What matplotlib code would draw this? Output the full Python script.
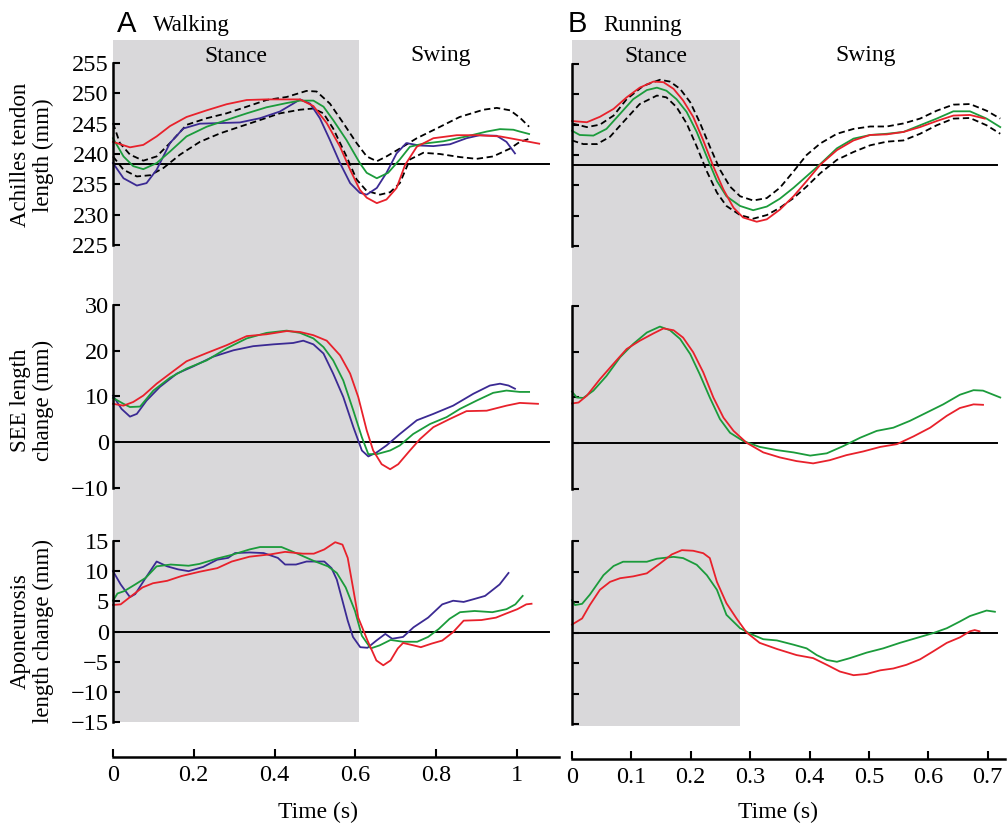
import numpy as np
import matplotlib.pyplot as plt

plt.rcParams['font.family'] = 'Liberation Serif'
plt.rcParams['axes.unicode_minus'] = True

RED = '#e8212b'
GREEN = '#1b9b3b'
PURPLE = '#3b2a93'
SHADE = '#d9d8da'

# ---------------- walking data ----------------
walk_stance_end = 0.609

# Achilles tendon length (mm)
wt_red_t = [0, 0.042, 0.075, 0.108, 0.141, 0.182, 0.232, 0.281, 0.331, 0.38, 0.43, 0.463, 0.496, 0.529,
            0.562, 0.587, 0.611, 0.628, 0.653, 0.677, 0.702, 0.723, 0.752, 0.793, 0.851, 0.9, 0.958, 1.007, 1.055]
wt_red = [242.0, 241.1, 241.5, 242.9, 244.6, 246.1, 247.2, 248.2, 248.9, 249.0, 249.0, 249.0, 247.9, 245.1,
          241.2, 237.4, 234.1, 232.8, 231.9, 232.5, 234.4, 238.2, 241.2, 242.6, 243.1, 243.1, 242.9, 242.3, 241.7]
wt_green_t = [0, 0.026, 0.05, 0.075, 0.108, 0.141, 0.182, 0.232, 0.281, 0.331, 0.38, 0.43, 0.463, 0.496, 0.521,
              0.545, 0.578, 0.611, 0.628, 0.653, 0.681, 0.71, 0.735, 0.768, 0.818, 0.875, 0.925, 0.958, 0.991,
              1.007, 1.03]
wt_green = [242.6, 239.6, 238.0, 237.5, 238.5, 240.4, 242.9, 244.5, 245.6, 246.7, 247.7, 248.4, 248.8, 248.8, 247.8,
            245.6, 242.3, 238.5, 236.9, 236.0, 236.9, 239.1, 241.2, 241.7, 242.1, 242.9, 243.7, 244.1, 244.0,
            243.7, 243.3]
wt_purple_t = [0, 0.026, 0.059, 0.083, 0.108, 0.141, 0.174, 0.215, 0.265, 0.314, 0.364, 0.413, 0.446, 0.463,
               0.488, 0.512, 0.537, 0.562, 0.587, 0.611, 0.628, 0.653, 0.677, 0.702, 0.726, 0.759, 0.793, 0.834,
               0.875, 0.908, 0.95, 0.974, 0.995]
wt_purple = [238.5, 236.0, 234.8, 235.2, 237.4, 241.8, 244.2, 245.0, 245.1, 245.2, 245.9, 247.0, 248.3, 249.0,
             248.3, 245.9, 242.3, 238.5, 235.2, 233.6, 233.3, 234.4, 236.9, 240.1, 241.8, 241.4, 241.3, 241.6,
             242.6, 243.1, 243.0, 242.0, 240.1]
wt_sd_hi_t = [0, 0.017, 0.042, 0.075, 0.108, 0.141, 0.182, 0.232, 0.281, 0.331, 0.38, 0.43, 0.479, 0.504, 0.537,
              0.57, 0.603, 0.628, 0.653, 0.677, 0.71, 0.752, 0.801, 0.858, 0.917, 0.95, 0.983, 1.007, 1.03]
wt_sd_hi = [245.1, 241.8, 239.9, 238.9, 239.6, 241.8, 244.8, 245.9, 246.7, 247.8, 248.9, 249.4, 250.4, 250.3, 248.3,
            245.1, 241.8, 239.6, 238.8, 239.6, 240.9, 242.6, 244.2, 246.1, 247.3, 247.6, 247.2, 246.0, 244.5]
wt_sd_lo_t = [0, 0.026, 0.059, 0.092, 0.125, 0.166, 0.215, 0.265, 0.314, 0.364, 0.413, 0.463, 0.496, 0.521, 0.545,
              0.578, 0.603, 0.628, 0.661, 0.686, 0.71, 0.735, 0.768, 0.809, 0.858, 0.9, 0.941, 0.983, 1.007, 1.03]
wt_sd_lo = [239.6, 237.4, 236.3, 236.5, 237.7, 239.9, 242.0, 243.4, 244.5, 245.6, 246.7, 247.3, 247.5, 246.7, 244.2,
            239.6, 235.8, 233.9, 233.3, 233.7, 235.2, 239.1, 240.2, 240.0, 239.5, 239.2, 239.6, 240.9, 242.0, 242.5]
walk_tendon_ref = 238.4

# SEE length change (mm)
ws_red_t = [0, 0.026, 0.05, 0.075, 0.108, 0.141, 0.182, 0.232, 0.281, 0.331, 0.38, 0.43, 0.463, 0.496, 0.529,
            0.562, 0.587, 0.607, 0.628, 0.644, 0.665, 0.686, 0.706, 0.735, 0.76, 0.793, 0.834, 0.875, 0.925,
            0.974, 1.007, 1.052]
ws_red = [8.4, 8.0, 8.8, 10.2, 12.8, 15.0, 17.7, 19.5, 21.2, 23.2, 23.6, 24.3, 24.1, 23.4, 22.2,
          19.0, 15.0, 9.9, 2.6, -1.8, -4.8, -5.9, -4.8, -1.8, 0.7, 3.3, 5.1, 6.8, 6.9,
          8.0, 8.6, 8.4]
ws_green_t = [0, 0.026, 0.042, 0.067, 0.1, 0.141, 0.182, 0.232, 0.281, 0.331, 0.38, 0.43, 0.463, 0.496, 0.521,
              0.545, 0.57, 0.595, 0.616, 0.632, 0.653, 0.686, 0.71, 0.743, 0.785, 0.826, 0.859, 0.9, 0.941,
              0.974, 1.007, 1.03]
ws_green = [9.7, 8.4, 7.7, 7.8, 11.3, 14.1, 16.1, 17.9, 20.5, 22.7, 23.9, 24.4, 23.9, 22.7, 20.8,
            17.9, 13.5, 6.9, 1.1, -2.6, -2.6, -1.8, -0.7, 1.8, 4.0, 5.5, 7.3, 9.1, 10.8,
            11.3, 11.0, 11.0]
ws_purple_t = [0, 0.021, 0.042, 0.059, 0.083, 0.116, 0.158, 0.199, 0.248, 0.298, 0.347, 0.397, 0.446, 0.471,
               0.496, 0.521, 0.545, 0.57, 0.595, 0.616, 0.632, 0.653, 0.677, 0.71, 0.752, 0.793, 0.842, 0.892,
               0.933, 0.958, 0.979, 0.995]
ws_purple = [10.2, 7.3, 5.6, 6.2, 9.1, 12.1, 15.0, 16.6, 18.7, 20.1, 21.0, 21.4, 21.7, 22.2,
             21.4, 19.4, 15.0, 9.9, 3.3, -1.8, -3.1, -2.2, -0.7, 1.8, 4.8, 6.2, 8.0, 10.6,
             12.4, 12.8, 12.4, 11.7]

# Aponeurosis length change (mm)
wa_red_t = [0, 0.019, 0.042, 0.073, 0.099, 0.134, 0.17, 0.214, 0.258, 0.294, 0.338, 0.391, 0.426, 0.47, 0.497,
            0.523, 0.55, 0.568, 0.581, 0.594, 0.607, 0.63, 0.652, 0.669, 0.687, 0.705, 0.718, 0.744, 0.762,
            0.789, 0.815, 0.842, 0.868, 0.912, 0.948, 0.974, 1.001, 1.023, 1.036]
wa_red = [4.4, 4.5, 5.7, 7.3, 8.0, 8.4, 9.2, 9.9, 10.5, 11.6, 12.4, 12.8, 13.2, 12.9, 12.9,
          13.6, 14.8, 14.4, 12.2, 7.3, 2.3, -1.5, -4.8, -5.6, -4.8, -2.8, -1.9, -2.3, -2.6,
          -2.0, -1.5, -0.1, 1.8, 1.9, 2.3, 3.0, 3.7, 4.5, 4.6]
wa_green_t = [0, 0.011, 0.028, 0.055, 0.081, 0.108, 0.143, 0.187, 0.214, 0.258, 0.294, 0.338, 0.364, 0.417, 0.453,
              0.497, 0.532, 0.554, 0.576, 0.599, 0.616, 0.638, 0.66, 0.687, 0.718, 0.753, 0.78, 0.806, 0.833,
              0.859, 0.895, 0.939, 0.974, 0.996, 1.014]
wa_green = [5.1, 6.3, 6.7, 7.8, 8.9, 10.8, 11.1, 10.9, 11.2, 12.1, 12.7, 13.6, 14.0, 14.0, 13.0,
            11.7, 10.8, 9.7, 7.3, 3.4, -0.7, -2.8, -2.3, -1.4, -1.7, -1.7, -0.9, 0.4, 2.1,
            3.2, 3.4, 3.2, 3.7, 4.5, 5.9]
wa_purple_t = [0, 0.019, 0.042, 0.055, 0.081, 0.108, 0.134, 0.161, 0.187, 0.223, 0.258, 0.285, 0.302, 0.338,
               0.373, 0.408, 0.426, 0.453, 0.479, 0.523, 0.541, 0.554, 0.568, 0.581, 0.594, 0.612, 0.63, 0.652,
               0.674, 0.691, 0.718, 0.744, 0.78, 0.815, 0.842, 0.868, 0.895, 0.921, 0.957, 0.979]
wa_purple = [10.0, 7.8, 5.7, 6.2, 8.9, 11.6, 10.8, 10.3, 10.0, 10.7, 11.9, 12.2, 13.0, 13.1,
             13.0, 12.2, 11.1, 11.1, 11.6, 11.6, 10.5, 8.6, 5.1, 1.8, -0.9, -2.6, -2.7, -1.5,
             -0.4, -1.2, -0.9, 0.7, 2.3, 4.5, 5.1, 4.9, 5.4, 5.9, 7.8, 9.7]

# ---------------- running data ----------------
run_stance_end = 0.283

rt_red_t = [0, 0.025, 0.047, 0.07, 0.092, 0.114, 0.137, 0.154, 0.171, 0.187, 0.204, 0.221, 0.238, 0.255, 0.272,
            0.288, 0.311, 0.328, 0.35, 0.373, 0.395, 0.418, 0.446, 0.474, 0.502, 0.53, 0.558, 0.586, 0.614,
            0.642, 0.67, 0.695]
rt_red = [245.6, 245.4, 246.3, 247.6, 249.5, 251.1, 252.1, 252.0, 250.9, 249.0, 246.3, 242.4, 238.1, 234.3, 231.3,
          229.7, 229.0, 229.4, 231.0, 233.2, 235.7, 238.4, 240.8, 242.4, 243.3, 243.4, 243.8, 244.6, 245.6,
          246.5, 246.6, 246.0]
rt_green_t = [0, 0.013, 0.036, 0.058, 0.081, 0.103, 0.126, 0.143, 0.159, 0.176, 0.193, 0.21, 0.227, 0.244, 0.26,
              0.283, 0.305, 0.328, 0.35, 0.373, 0.395, 0.418, 0.446, 0.474, 0.502, 0.53, 0.558, 0.586, 0.614,
              0.642, 0.67, 0.698, 0.721]
rt_green = [244.0, 243.3, 243.2, 244.3, 246.8, 249.2, 250.7, 251.1, 250.6, 249.2, 247.1, 243.8, 239.7, 235.7, 233.2,
            231.6, 230.9, 231.5, 232.8, 234.6, 236.5, 238.5, 241.1, 242.7, 243.3, 243.5, 243.8, 244.9, 246.0,
            247.2, 247.2, 246.0, 244.6]
rt_sd_hi_t = [0, 0.025, 0.047, 0.07, 0.092, 0.12, 0.148, 0.165, 0.182, 0.199, 0.215, 0.232, 0.249, 0.266, 0.283,
              0.305, 0.328, 0.35, 0.373, 0.395, 0.418, 0.446, 0.474, 0.502, 0.53, 0.558, 0.586, 0.614, 0.642,
              0.67, 0.698, 0.721]
rt_sd_hi = [245.2, 244.6, 245.0, 246.5, 249.2, 251.4, 252.4, 252.1, 250.9, 248.7, 245.4, 241.4, 237.6, 234.8, 233.2,
            232.5, 232.9, 234.6, 237.3, 240.0, 241.9, 243.5, 244.3, 244.7, 244.7, 245.2, 246.0, 247.3, 248.3,
            248.4, 247.3, 246.0]
rt_sd_lo_t = [0, 0.019, 0.042, 0.064, 0.086, 0.114, 0.143, 0.159, 0.176, 0.193, 0.21, 0.227, 0.244, 0.26, 0.283,
              0.305, 0.328, 0.35, 0.373, 0.395, 0.418, 0.446, 0.474, 0.502, 0.53, 0.558, 0.586, 0.614, 0.642,
              0.67, 0.698, 0.721]
rt_sd_lo = [242.4, 241.8, 241.8, 243.0, 245.4, 248.4, 249.8, 249.5, 247.9, 245.2, 241.4, 237.3, 233.8, 231.6, 230.1,
            229.5, 230.1, 231.3, 232.9, 234.8, 237.0, 239.2, 240.5, 241.6, 242.2, 242.4, 243.5, 244.9, 246.0,
            246.1, 244.9, 243.5]
run_tendon_ref = 238.3

rs_red_t = [0, 0.011, 0.025, 0.047, 0.07, 0.092, 0.114, 0.137, 0.154, 0.171, 0.187, 0.204, 0.221, 0.238, 0.255,
            0.272, 0.294, 0.322, 0.35, 0.378, 0.406, 0.434, 0.462, 0.49, 0.519, 0.547, 0.575, 0.603, 0.631,
            0.653, 0.676, 0.692]
rs_red = [8.7, 8.9, 10.4, 14.0, 17.4, 20.6, 22.4, 24.0, 25.1, 24.7, 23.1, 19.9, 15.5, 10.0, 5.6,
          2.7, 0.1, -2.0, -3.1, -3.9, -4.4, -3.7, -2.6, -1.8, -0.8, -0.2, 1.5, 3.4, 6.0,
          7.7, 8.5, 8.4]
rs_green_t = [0, 0.008, 0.019, 0.036, 0.058, 0.081, 0.103, 0.126, 0.148, 0.165, 0.182, 0.199, 0.215, 0.232, 0.249,
              0.266, 0.288, 0.316, 0.345, 0.373, 0.401, 0.429, 0.457, 0.485, 0.513, 0.541, 0.569, 0.597, 0.625,
              0.653, 0.676, 0.692, 0.721]
rs_green = [11.3, 10.0, 9.9, 11.5, 14.7, 18.8, 21.7, 24.2, 25.5, 24.7, 22.8, 19.5, 15.1, 10.0, 5.3,
            2.3, 0.5, -0.8, -1.5, -2.0, -2.7, -2.2, -0.6, 1.2, 2.7, 3.4, 4.9, 6.7, 8.5,
            10.6, 11.6, 11.5, 10.0]

ra_red_t = [0, 0.017, 0.03, 0.047, 0.064, 0.081, 0.103, 0.126, 0.148, 0.168, 0.185, 0.204, 0.221, 0.232, 0.244,
            0.26, 0.277, 0.294, 0.316, 0.345, 0.378, 0.406, 0.429, 0.451, 0.474, 0.496, 0.519, 0.541, 0.563,
            0.586, 0.608, 0.631, 0.653, 0.67, 0.678, 0.686]
ra_red = [1.3, 2.3, 4.5, 7.0, 8.3, 8.9, 9.2, 9.7, 11.3, 12.8, 13.5, 13.4, 13.0, 12.2, 8.3,
          4.8, 2.3, 0.0, -1.7, -2.7, -3.7, -4.2, -5.3, -6.4, -7.0, -6.8, -6.2, -5.9, -5.3,
          -4.4, -3.1, -1.7, -0.8, 0.2, 0.4, 0.2]
ra_green_t = [0, 0.005, 0.017, 0.03, 0.053, 0.07, 0.086, 0.109, 0.126, 0.143, 0.171, 0.187, 0.21, 0.227, 0.244,
              0.26, 0.283, 0.3, 0.322, 0.345, 0.373, 0.395, 0.412, 0.429, 0.446, 0.468, 0.496, 0.524, 0.552,
              0.58, 0.608, 0.631, 0.653, 0.67, 0.698, 0.712]
ra_green = [5.3, 4.5, 4.7, 6.2, 9.4, 10.9, 11.6, 11.6, 11.6, 12.1, 12.4, 12.2, 11.1, 9.4, 7.0,
            2.9, 0.7, -0.2, -1.1, -1.3, -2.0, -2.6, -3.7, -4.5, -4.8, -4.2, -3.3, -2.6, -1.7,
            -0.9, -0.1, 0.7, 1.8, 2.7, 3.6, 3.4]

walk_ticks = [0, 0.2, 0.4, 0.6, 0.8, 1]
walk_ticklabels = ['0', '0.2', '0.4', '0.6', '0.8', '1']
run_ticks = [0, 0.1, 0.2, 0.3, 0.4, 0.5, 0.6, 0.7]
run_ticklabels = ['0', '0.1', '0.2', '0.3', '0.4', '0.5', '0.6', '0.7']

tendon_ticks = [225, 230, 235, 240, 245, 250, 255]
see_ticks = [-10, 0, 10, 20, 30]
apo_ticks = [-15, -10, -5, 0, 5, 10, 15]

# ---------------- layout (pixels) ----------------
W, H = 1008, 826
fig = plt.figure(figsize=(W / 100, H / 100), dpi=100)


def px_axes(left, top, right, bottom):
    return fig.add_axes([left / W, 1 - bottom / H, (right - left) / W, (bottom - top) / H])


TICK_FS = 17.5
LAB_FS = 16.5

cols = [
    dict(x0=113, x1=559, xmax=1.104, line_end=1.08, stance=walk_stance_end, swing_mid=0.812,
         rows=[(63, 245), (305, 488), (541, 722)], shade=(40, 722), xaxis_y=757,
         ticks=walk_ticks, ticklabels=walk_ticklabels, xlab_pos=0.46),
    dict(x0=572, x1=1005, xmax=0.729, line_end=0.716, stance=run_stance_end, swing_mid=0.495,
         rows=[(64, 246), (306, 489), (541, 724)], shade=(40, 726), xaxis_y=759,
         ticks=run_ticks, ticklabels=run_ticklabels, xlab_pos=0.476),
]

panels = [
    # walking
    [
        [(wt_sd_hi_t, wt_sd_hi, 'k', '--'), (wt_sd_lo_t, wt_sd_lo, 'k', '--'),
         (wt_purple_t, wt_purple, PURPLE, '-'), (wt_green_t, wt_green, GREEN, '-'), (wt_red_t, wt_red, RED, '-')],
        [(ws_purple_t, ws_purple, PURPLE, '-'), (ws_green_t, ws_green, GREEN, '-'), (ws_red_t, ws_red, RED, '-')],
        [(wa_purple_t, wa_purple, PURPLE, '-'), (wa_green_t, wa_green, GREEN, '-'), (wa_red_t, wa_red, RED, '-')],
    ],
    # running
    [
        [(rt_sd_hi_t, rt_sd_hi, 'k', '--'), (rt_sd_lo_t, rt_sd_lo, 'k', '--'),
         (rt_green_t, rt_green, GREEN, '-'), (rt_red_t, rt_red, RED, '-')],
        [(rs_green_t, rs_green, GREEN, '-'), (rs_red_t, rs_red, RED, '-')],
        [(ra_green_t, ra_green, GREEN, '-'), (ra_red_t, ra_red, RED, '-')],
    ],
]
refs = [[walk_tendon_ref, 0, 0], [run_tendon_ref, 0, 0]]
ylims = [(225, 255), (-10, 30), (-15, 15)]
yticks = [tendon_ticks, see_ticks, apo_ticks]
ylabels = ['Achilles tendon\nlength (mm)', 'SEE length\nchange (mm)', 'Aponeurosis\nlength change (mm)']
ylabel_y = [155, 400, 631]

for ci, col in enumerate(cols):
    # stance shading
    bg = px_axes(col['x0'], col['shade'][0], col['x1'], col['shade'][1])
    bg.set_xlim(0, col['xmax'])
    bg.set_ylim(0, 1)
    bg.axvspan(0, col['stance'], color=SHADE, lw=0)
    bg.axis('off')
    label_y = 1 - 16 / (col['shade'][1] - col['shade'][0])
    bg.text(col['stance'] / 2, label_y, 'Stance', fontsize=LAB_FS + 0.5, ha='center', va='center')
    bg.text(col['swing_mid'], label_y, 'Swing', fontsize=LAB_FS + 0.5, ha='center', va='center')

    for ri, (top, bot) in enumerate(col['rows']):
        ax = px_axes(col['x0'], top, col['x1'], bot)
        ax.patch.set_visible(False)
        ax.set_xlim(0, col['xmax'])
        ax.set_ylim(*ylims[ri])
        for t, v, c, ls in panels[ci][ri]:
            if ls == '--':
                ax.plot(t, v, color=c, lw=1.3, ls=(0, (3.5, 2)), clip_on=False)
            else:
                ax.plot(t, v, color=c, lw=1.3, clip_on=False)
        ax.plot([0, col['line_end']], [refs[ci][ri]] * 2, color='k', lw=1.4, zorder=1)
        for s in ['top', 'right', 'bottom']:
            ax.spines[s].set_visible(False)
        ax.spines['left'].set_linewidth(1.8)
        ax.set_xticks([])
        ax.set_yticks(yticks[ri])
        ax.tick_params(axis='y', direction='in', length=5, width=1.5, pad=3, labelsize=TICK_FS)
        if ci == 1:
            ax.set_yticklabels([])

    # time axis
    xa = px_axes(col['x0'], col['xaxis_y'] - 1, col['x1'], col['xaxis_y'])
    xa.patch.set_visible(False)
    xa.set_xlim(0, col['xmax'])
    for s in ['top', 'right', 'left']:
        xa.spines[s].set_visible(False)
    xa.spines['bottom'].set_linewidth(1.8)
    xa.set_yticks([])
    xa.set_xticks(col['ticks'])
    xa.set_xticklabels(col['ticklabels'])
    xa.tick_params(axis='x', direction='in', length=6, width=1.5, pad=6, labelsize=TICK_FS)
    fig.text((col['x0'] + col['xlab_pos'] * (col['x1'] - col['x0'])) / W, 1 - 812 / H, 'Time (s)',
             fontsize=LAB_FS + 0.5, ha='center', va='center')

for ri in range(3):
    fig.text(32 / W, 1 - ylabel_y[ri] / H, ylabels[ri], rotation=90, fontsize=LAB_FS,
             ha='center', va='center', multialignment='center', linespacing=1.15)

fig.text(117 / W, 1 - 32 / H, 'A', fontsize=21, family='Liberation Sans', va='baseline')
fig.text(153 / W, 1 - 31 / H, 'Walking', fontsize=LAB_FS, va='baseline')
fig.text(568 / W, 1 - 32 / H, 'B', fontsize=21, family='Liberation Sans', va='baseline')
fig.text(603 / W, 1 - 31 / H, 'Running', fontsize=LAB_FS, va='baseline')

fig.savefig('out.png', dpi=100)
